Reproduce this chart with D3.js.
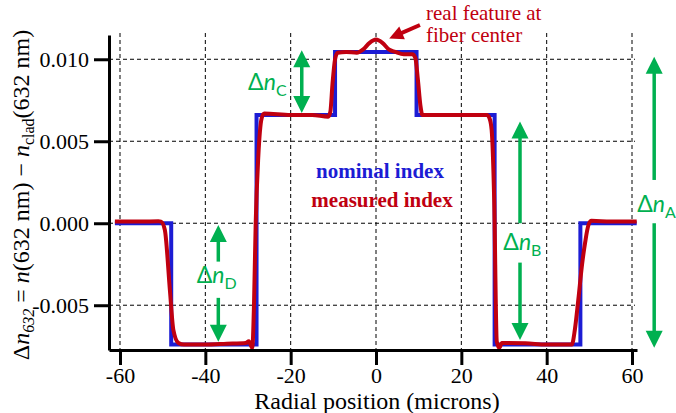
<!DOCTYPE html>
<html>
<head>
<meta charset="utf-8">
<script src="https://cdn.jsdelivr.net/npm/d3@7"></script>
<style>
body { margin: 0; background: #fff; }
svg { display: block; }
</style>
</head>
<body>
<div id="chart"></div>
<script>
const w = 676;
const h = 413;
const serif = "'Liberation Serif', 'Times New Roman', serif";
const sans = "Lato, 'Open Sans', sans-serif";

const xTicks = [-60, -40, -20, 0, 20, 40, 60];
const xTickLabels = ["-60", "-40", "-20", "0", "20", "40", "60"];
const yTicks = [-0.005, 0, 0.005, 0.010];
const yTickLabels = ["-0.005", "0.000", "0.005", "0.010"];

// nominal step profile: edge positions (microns) and the level that starts there
const nominalEdges = [-61.2, -48, -28, -9.6, 9.5, 27.8, 47.9, 61.1];
const nominalLevels = [0, -0.0074, 0.0066, 0.01045, 0.0066, -0.0074, 0, 0];

// measured profile
const measuredX = [-61.2, -55, -51, -50.4, -49.5, -48.3, -47.5, -46.3, -45, -40, -35, -30.5, -29.8, -29.0,
	-28.6, -28.2, -27.6, -26.8, -26.2, -20, -15, -11.2, -10.7, -10.2, -9.6, -9.0, -7, -4.5, -3, -1.5, 0,
	1.5, 3, 4.5, 6.5, 8.5, 9.2, 9.8, 10.4, 10.9, 12, 20, 26.0, 26.6, 27.1, 27.7, 28.3, 28.9, 29.5, 35, 40,
	45.9, 46.6, 47.4, 48.3, 49.0, 49.8, 50.5, 55, 61.1];
const measuredN = [0.0001, 0.0001, 0.00012, 0.0001, -0.0004, -0.0041, -0.0065, -0.0073, -0.0074, -0.0074, -0.00735, -0.0073, -0.0072, -0.0076,
	-0.005, 0.0, 0.004, 0.0064, 0.0067, 0.0066, 0.0066, 0.0065, 0.0068, 0.0085, 0.0100, 0.0104, 0.01045, 0.0104, 0.0106, 0.0110, 0.0112,
	0.0110, 0.0106, 0.01045, 0.0103, 0.0103, 0.0101, 0.0088, 0.0072, 0.0066, 0.0066, 0.0066, 0.0066, 0.0064, 0.0057, 0.0014, -0.0072, -0.0076, -0.0073, -0.00732, -0.0074,
	-0.0074, -0.0065, -0.0047, -0.0025, -0.0012, -0.0001, 0.00015, 0.0001, 0.0001];

// green delta-n arrows (x in microns, tips and label gap in index units)
const arrowNames = ["A", "B", "C", "D"];
const arrowX = [65.2, 33.75, -17.4, -36.96];
const arrowTop = [0.01016, 0.0062, 0.01055, -0.0001];
const arrowBottom = [-0.0076, -0.00712, 0.00672, -0.00722];
const gapTop = [0.00264, 0, null, -0.00234];
const gapBottom = [0, -0.0024, null, -0.00455];

const green = "#00b050";
const blue = "#1c1cd4";
const red = "#c00010";

let svg = d3.select('#chart')
	.append('svg')
		.attr('width', w)
		.attr('height', h);

let xScale = d3.scaleLinear()
	.domain([-62.58, 61.17])
	.range([109, 637]);

let yScale = d3.scaleLinear()
	.domain([-0.00773, 0.01148])
	.range([350, 35]);

// grid
svg.append("g").selectAll("line")
	.data(xTicks)
	.enter()
	.append("line")
	.attr("x1", (d) => xScale(d))
	.attr("x2", (d) => xScale(d))
	.attr("y1", 33)
	.attr("y2", 350)
	.attr("stroke", "#000")
	.attr("stroke-width", 1)
	.attr("stroke-dasharray", "4,3");

svg.append("g").selectAll("line")
	.data(yTicks)
	.enter()
	.append("line")
	.attr("x1", 109)
	.attr("x2", 635)
	.attr("y1", (d) => yScale(d))
	.attr("y2", (d) => yScale(d))
	.attr("stroke", "#000")
	.attr("stroke-width", 1)
	.attr("stroke-dasharray", "4,3");

// nominal (blue) and measured (red)
let nominal = nominalEdges.map((x, i) => [x, nominalLevels[i]]);
let measured = measuredX.map((x, i) => [x, measuredN[i]]);

svg.append("path")
	.datum(nominal)
	.attr("fill", "none")
	.attr("stroke", blue)
	.attr("stroke-width", 4)
	.attr("stroke-linejoin", "miter")
	.attr("d", d3.line()
		.x((d) => xScale(d[0]))
		.y((d) => yScale(d[1]))
		.curve(d3.curveStepAfter));

svg.append("path")
	.datum(measured)
	.attr("fill", "none")
	.attr("stroke", red)
	.attr("stroke-width", 4)
	.attr("stroke-linejoin", "round")
	.attr("d", d3.line()
		.x((d) => xScale(d[0]))
		.y((d) => yScale(d[1]))
		.curve(d3.curveMonotoneX));

// axes
let xAxis = svg.append("g")
	.attr("transform", "translate(0," + yScale.range()[0] + ")")
	.call(d3.axisBottom(xScale)
		.tickValues(xTicks)
		.tickFormat((d, i) => xTickLabels[i])
		.tickSize(15)
		.tickSizeOuter(0)
		.tickPadding(2));

let yAxis = svg.append("g")
	.attr("transform", "translate(" + xScale.range()[0] + ",0)")
	.call(d3.axisLeft(yScale)
		.tickValues(yTicks)
		.tickFormat((d, i) => yTickLabels[i])
		.tickSize(15)
		.tickSizeOuter(0)
		.tickPadding(5));

[xAxis, yAxis].forEach((g) => {
	g.attr("font-family", serif).attr("font-size", 22);
	g.select(".domain").attr("stroke-width", 3);
	g.selectAll(".tick line").attr("stroke-width", 3);
	g.selectAll(".tick text").attr("fill", "#000");
});

// axis titles
svg.append("text")
	.attr("x", 377)
	.attr("y", 409)
	.attr("text-anchor", "middle")
	.attr("font-family", serif)
	.attr("font-size", 24)
	.text("Radial position (microns)");

let yTitle = svg.append("text")
	.attr("transform", "translate(29,195) rotate(-90)")
	.attr("text-anchor", "middle")
	.attr("font-family", serif)
	.attr("font-size", 24);
yTitle.append("tspan").text("\u0394");
yTitle.append("tspan").attr("font-style", "italic").text("n");
yTitle.append("tspan").attr("font-style", "italic").attr("font-size", 16).attr("dy", 5).text("632");
yTitle.append("tspan").attr("dy", -5).text(" = ");
yTitle.append("tspan").attr("font-style", "italic").text("n");
yTitle.append("tspan").text("(632 nm) \u2212 ");
yTitle.append("tspan").attr("font-style", "italic").text("n");
yTitle.append("tspan").attr("font-size", 16).attr("dy", 5).text("clad");
yTitle.append("tspan").attr("dy", -5).text("(632 nm)");

// legend
svg.append("text")
	.attr("x", 380)
	.attr("y", 178)
	.attr("text-anchor", "middle")
	.attr("font-family", serif)
	.attr("font-size", 21)
	.attr("font-weight", "bold")
	.attr("fill", blue)
	.text("nominal index");

svg.append("text")
	.attr("x", 382)
	.attr("y", 207)
	.attr("text-anchor", "middle")
	.attr("font-family", serif)
	.attr("font-size", 21)
	.attr("font-weight", "bold")
	.attr("fill", red)
	.text("measured index");

// annotation
let note = svg.append("text")
	.attr("x", 426)
	.attr("y", 20)
	.attr("font-family", serif)
	.attr("font-size", 21)
	.attr("fill", red);
note.append("tspan").attr("x", 426).text("real feature at");
note.append("tspan").attr("x", 426).attr("dy", 22).text("fiber center");

function arrowHead(g, x, y, dx, dy, len, wid, color) {
	// tip at (x,y), pointing along (dx,dy)
	const l = Math.sqrt(dx * dx + dy * dy);
	const ux = dx / l, uy = dy / l;
	const bx = x - ux * len, by = y - uy * len;
	const px = -uy * wid / 2, py = ux * wid / 2;
	g.append("path")
		.attr("d", "M" + x + "," + y + "L" + (bx + px) + "," + (by + py) + "L" + (bx - px) + "," + (by - py) + "Z")
		.attr("fill", color);
}

let red1 = [xScale(3.1), yScale(0.01127)];
let red0 = [xScale(10.3), yScale(0.01209)];
let ann = svg.append("g");
ann.append("line")
	.attr("x1", red0[0]).attr("y1", red0[1])
	.attr("x2", red1[0] + (red0[0] - red1[0]) * 0.3).attr("y2", red1[1] + (red0[1] - red1[1]) * 0.3)
	.attr("stroke", red)
	.attr("stroke-width", 4);
arrowHead(ann, red1[0], red1[1], red1[0] - red0[0], red1[1] - red0[1], 14, 14, red);

// delta n arrows
let labelDx = [-17, -16.7, -53.7, -21.6];
let labelY = [211.7, 250, 90, 283.3];
arrowNames.forEach((name, i) => {
	let g = svg.append("g");
	let x = xScale(arrowX[i]);
	let yt = yScale(arrowTop[i]);
	let yb = yScale(arrowBottom[i]);
	let segs = gapTop[i] === null
		? [[yt + 12, yb - 12]]
		: [[yt + 12, yScale(gapTop[i])], [yScale(gapBottom[i]), yb - 12]];
	segs.forEach((s) => {
		g.append("line")
			.attr("x1", x).attr("x2", x)
			.attr("y1", s[0]).attr("y2", s[1])
			.attr("stroke", green)
			.attr("stroke-width", 3.5);
	});
	arrowHead(g, x, yt, 0, -1, 17, 17, green);
	arrowHead(g, x, yb, 0, 1, 17, 17, green);

	let t = g.append("text")
		.attr("x", x + labelDx[i])
		.attr("y", labelY[i])
		.attr("font-family", sans)
		.attr("font-size", 23)
		.attr("fill", green);
	t.append("tspan").text("\u0394");
	t.append("tspan").attr("font-style", "italic").text("n");
	t.append("tspan").attr("font-size", 16).attr("dy", 6).text(name);
});
</script>
</body>
</html>
